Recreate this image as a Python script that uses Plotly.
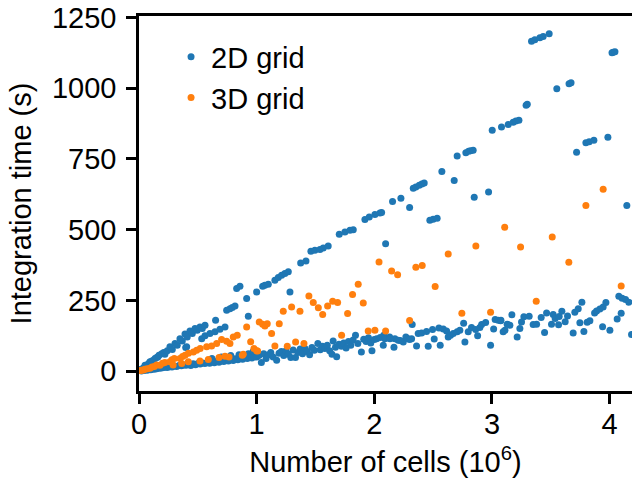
import plotly.graph_objects as go

# ---- 2D grid (values in 10^6 cells, seconds) ----
x2d_upper = [0.01, 0.02, 0.03, 0.04, 0.051, 0.06, 0.07, 0.08, 0.093, 0.10, 0.11, 0.12, 0.136, 0.15, 0.16, 0.17,
             0.193, 0.21, 0.22, 0.24, 0.263, 0.283, 0.306, 0.325, 0.348, 0.368, 0.391, 0.397, 0.405, 0.41, 0.433,
             0.453, 0.476, 0.495, 0.518, 0.538, 0.561, 0.533, 0.561, 0.603, 0.646, 0.688, 0.731, 0.651, 0.745,
             0.773, 0.793, 0.816, 0.83, 0.858, 0.915, 0.929, 1.0, 1.051, 1.07, 1.099, 1.155, 1.184, 1.212, 1.24,
             1.269, 1.283, 1.374, 1.419, 1.461, 1.495, 1.538, 1.566, 1.608, 1.702, 1.75, 1.793, 1.821, 1.92, 1.957,
             2.005, 2.048, 2.062, 2.096, 2.155, 2.226, 2.3, 2.331, 2.353, 2.382, 2.404, 2.424, 2.472, 2.5, 2.534,
             2.574, 2.679, 2.704, 2.778, 2.801, 2.818, 2.84, 2.849, 2.971, 3.002, 3.081, 3.138, 3.18, 3.203, 3.229,
             3.29, 3.30, 3.336, 3.364, 3.407, 3.435, 3.486, 3.551, 3.655, 3.672, 3.719, 3.798, 3.826, 3.866, 3.985,
             4.02, 4.03, 4.045, 4.146]
y2d_upper = [4, 7, 9, 12, 21, 17, 22, 26, 33, 30, 36, 38, 45, 48, 50, 56,
             62, 66, 60, 72, 86, 77, 98, 92, 115, 107, 131, 84, 86, 121, 142,
             133, 151, 145, 156, 151, 162, 115, 125, 133, 139, 148, 156, 180, 215,
             221, 225, 230, 292, 300, 257, 194, 280, 300, 304, 307, 321, 331, 339, 345,
             351, 280, 382, 389, 424, 427, 430, 435, 442, 484, 492, 498, 500, 536, 545,
             554, 559, 561, 450, 600, 611, 578, 646, 651, 657, 661, 665, 533, 537, 540,
             706, 674, 760, 772, 777, 779, 781, 615, 633, 851, 863, 872, 880, 884, 887,
             940, 943, 1166, 1171, 1178, 1183, 1192, 998, 1016, 1019, 774, 807, 811, 816, 827,
             1125, 1127, 1129, 585]

x2d_lower = [0.02, 0.04, 0.05, 0.07, 0.08, 0.10, 0.11, 0.13, 0.15, 0.16, 0.18, 0.20, 0.22, 0.24, 0.26, 0.28,
             0.30, 0.32, 0.34, 0.36, 0.38, 0.40, 0.42, 0.44, 0.46, 0.48, 0.50, 0.52, 0.54, 0.56, 0.58, 0.60,
             0.62, 0.64, 0.66, 0.68, 0.70, 0.72, 0.74, 0.76, 0.78, 0.80, 0.82, 0.84, 0.86, 0.88, 0.90, 0.92,
             0.94, 0.96, 0.98, 1.00, 0.62, 0.70, 0.78, 0.85, 0.93, 0.97,
             1.02, 1.04, 1.06, 1.08, 1.10, 1.12, 1.14, 1.17, 1.19, 1.21, 1.23, 1.25, 1.27, 1.29, 1.31, 1.33,
             1.35, 1.37, 1.39, 1.41, 1.43, 1.45, 1.47, 1.49, 1.52, 1.54, 1.56, 1.58, 1.60, 1.62, 1.64, 1.65,
             1.67, 1.68, 1.70, 1.72, 1.74, 1.76, 1.78, 1.80, 1.82, 1.84, 1.86, 1.89, 1.91, 1.93, 1.95, 1.97,
             1.98, 2.00, 2.02, 2.05, 2.08, 2.09, 2.13, 2.167, 2.175, 2.203, 2.246, 2.268, 2.288, 2.317, 2.322,
             2.359, 2.373, 2.402, 2.444, 2.458, 2.495, 2.509, 2.549, 2.56, 2.586, 2.614, 2.628, 2.648, 2.671,
             2.704, 2.727, 2.759, 2.77, 2.798, 2.826, 2.861, 2.878, 2.897, 2.912, 2.946, 2.988, 3.014, 3.027,
             3.053, 3.073, 3.076, 3.095, 3.11, 3.129, 3.152, 3.169, 3.214, 3.237, 3.251, 3.271, 3.316, 3.35,
             3.379, 3.418, 3.447, 3.464, 3.506, 3.52, 3.537, 3.566, 3.571, 3.594, 3.622, 3.642, 3.69, 3.704,
             3.733, 3.747, 3.764, 3.781, 3.809, 3.832, 3.872, 3.889, 3.917, 3.945, 3.94, 3.968, 4.002, 4.064,
             4.078, 4.098, 4.106, 4.135, 4.163, 4.186, 2.076, 2.133, 2.22, 2.3]
y2d_lower = [1, 2, 4, 3, 6, 5, 8, 7, 9, 11, 10, 12, 14, 13, 16, 15,
             18, 17, 20, 19, 22, 21, 24, 20, 26, 23, 27, 25, 29, 27, 31, 28,
             33, 30, 35, 32, 37, 34, 39, 36, 41, 38, 44, 40, 46, 42, 48, 45,
             51, 47, 53, 50, 45, 50, 55, 58, 62, 70,
             55, 31, 62, 45, 58, 66, 50, 39, 63, 70, 55, 72, 60, 48, 75, 48,
             66, 78, 62, 80, 70, 58, 84, 74, 98, 76, 88, 80, 92, 72, 60, 107,
             85, 51, 95, 88, 100, 82, 105, 92, 110, 127, 98, 68, 113, 105, 118, 100,
             72, 112, 115, 119, 127, 115, 121, 85, 115, 109, 103, 121, 115, 115, 165,
             89, 133, 135, 140, 88, 147, 114, 153, 92, 149, 142, 121, 127, 133,
             139, 145, 169, 103, 139, 154, 147, 125, 154, 165, 172, 92, 149, 183,
             180, 178, 180, 139, 145, 166, 162, 199, 121, 151, 174, 192, 194, 165,
             166, 190, 137, 206, 166, 200, 186, 164, 193, 212, 175, 195, 135, 208,
             221, 171, 244, 140, 173, 178, 206, 213, 220, 227, 157, 243, 145, 184,
             265, 205, 258, 253, 244, 130, 92, 115, 108, 112]

# ---- 3D grid ----
x3d = [0.01, 0.02, 0.037, 0.05, 0.07, 0.093, 0.11, 0.13, 0.15, 0.178, 0.2, 0.22, 0.263, 0.28, 0.30, 0.348,
       0.37, 0.391, 0.42, 0.462, 0.49, 0.52, 0.575, 0.617, 0.66, 0.702, 0.745, 0.773, 0.801, 0.835, 0.886,
       0.915, 0.949, 0.977, 1.0, 1.022, 1.051, 1.07, 1.09, 1.127, 1.192, 1.226, 1.297, 1.368, 1.444, 1.481,
       1.524, 1.561, 1.603, 1.646, 1.688, 1.773, 1.815, 1.863, 1.906, 2.04, 2.147, 2.198, 2.353, 2.407,
       2.517, 2.628, 2.863, 3.108, 3.243, 3.512, 3.653, 3.798, 3.945, 4.098,
       0.29, 0.363, 0.419, 0.518, 0.589, 0.68, 0.731, 0.765, 0.878, 1.008, 1.155, 1.26, 1.331, 1.402,
       1.722, 1.948, 2.005, 2.096, 2.3, 2.744, 2.988, 3.376]
y3d = [2, 3, 4, 7, 9, 10, 15, 17, 22, 21, 28, 31, 33, 40, 45, 45,
       52, 56, 63, 68, 74, 80, 86, 89, 98, 112, 106, 98, 121, 127, 60,
       156, 104, 80, 72, 174, 166, 160, 168, 133, 168, 212, 227, 212, 266, 243,
       224, 200, 230, 247, 243, 204, 271, 307, 241, 386, 354, 341, 367, 373,
       299, 414, 442, 509, 439, 474, 385, 585, 643, 301,
       22, 27, 33, 36, 41, 48, 53, 50, 56, 71, 89, 88, 103, 98,
       127, 142, 145, 142, 179, 205, 208, 247]

x_ticks = [0, 1, 2, 3, 4]
y_ticks = [0, 250, 500, 750, 1000, 1250]

BLUE = "#1f77b4"
ORANGE = "#ff7f0e"
FONT = "Liberation Sans, Arial, sans-serif"
FS = 29

fig = go.Figure()
fig.add_trace(go.Scatter(x=x2d_upper + x2d_lower, y=y2d_upper + y2d_lower, mode="markers",
                         name="2D grid", legendgroup="a",
                         marker=dict(color=BLUE, size=7, line=dict(width=0))))
fig.add_trace(go.Scatter(x=x3d, y=y3d, mode="markers", name="3D grid", legendgroup="b",
                         marker=dict(color=ORANGE, size=7, line=dict(width=0))))

axis_common = dict(showline=True, linecolor="black", linewidth=2.5, ticks="outside",
                   ticklen=10, tickwidth=2.5, tickcolor="black", showgrid=False, zeroline=False,
                   tickfont=dict(family=FONT, size=FS, color="black"))

fig.update_xaxes(range=[0, 4.19], tickvals=x_ticks, ticktext=[str(v) for v in x_ticks], mirror=True,
                 ticklabelstandoff=-5,
                 title=dict(text="Number of cells (10<sup>6</sup>)", font=dict(family=FONT, size=FS, color="black"),
                            standoff=14),
                 **axis_common)
fig.update_yaxes(range=[-70, 1255], tickvals=y_ticks, ticktext=[str(v) for v in y_ticks],
                 ticklabelstandoff=4,
                 title=dict(text="Integration time (s)", font=dict(family=FONT, size=FS, color="black"),
                            standoff=12),
                 **axis_common)

fig.update_layout(
    width=632, height=486,
    margin=dict(l=139, r=0, t=16, b=95),
    plot_bgcolor="white", paper_bgcolor="white",
    font=dict(family=FONT, size=FS, color="black"),
    legend=dict(x=0.065, y=0.959, xanchor="left", yanchor="top", bgcolor="rgba(0,0,0,0)",
                font=dict(family=FONT, size=FS, color="black"), tracegroupgap=0,
                traceorder="grouped", itemwidth=30),
)

fig.write_html("out.html")
